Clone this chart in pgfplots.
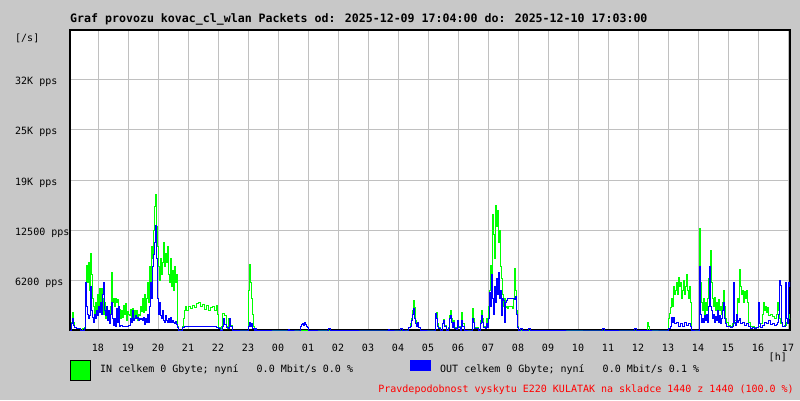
\documentclass[border=0pt]{standalone}
\usepackage{pgfplots}
\pgfplotsset{compat=1.18}
\usepackage{fontspec}
\setmainfont{DejaVu Sans Mono}
\definecolor{bg}{RGB}{200,200,200}
\definecolor{gridc}{RGB}{192,192,192}
\definecolor{ingreen}{RGB}{0,255,0}
\definecolor{outblue}{RGB}{0,0,255}
\begin{document}
\begin{tikzpicture}[x=1pt,y=1pt]
\fill[bg] (0,0) rectangle (800,400);
\begin{axis}[
  at={(70pt,70pt)}, anchor=south west,
  scale only axis, width=720pt, height=300pt,
  xmin=70, xmax=790, ymin=0, ymax=37500,
  axis background/.style={fill=white},
  axis line style={black, line width=1.2pt},
  grid=major, grid style={gridc, line width=1pt},
  tick style={draw=none},
  xtick={98,128,158,188,218,248,278,308,338,368,398,428,458,488,518,548,578,608,638,668,698,728,758,788},
  xticklabels={18,19,20,21,22,23,00,01,02,03,04,05,06,07,08,09,10,11,12,13,14,15,16,17},
  ytick={6250,12500,18750,25000,31250},
  yticklabels={6200 pps,12500 pps,19K pps,25K pps,32K pps},
  tick label style={font=\fontsize{10}{12}\selectfont, inner sep=0pt},
  xticklabel style={anchor=base, yshift=-21pt},
  yticklabel style={anchor=base west, xshift=-55pt, yshift=-5pt},
  /pgf/number format/assume math mode=true,
  scaled y ticks=false,
]
\addplot[ingreen, line width=0.8pt, mark=none, const plot] coordinates {
(70,0)(71,1000)(72,2250)(73,1000)(74,300)(76,250)(78,200)(80,0)(82,250)(84,300)
(85,3000)(86,8100)(87,6000)(88,8500)(89,5000)(90,9600)(91,7000)(92,4000)(93,3000)(94,2000)
(95,3500)(96,2000)(97,4400)(98,3000)(99,5250)(100,2500)(101,5250)(102,4000)(103,2000)(104,3500)
(105,1500)(106,3000)(107,1800)(108,2500)(109,1500)(110,3000)(111,7250)(112,3500)(113,4000)(114,3000)
(115,4000)(116,3500)(117,3800)(118,2200)(119,2600)(120,1500)(121,2500)(122,1600)(123,3100)(124,2000)
(125,3300)(126,1200)(127,2300)(128,2000)(129,1800)(130,2600)(131,1400)(132,2700)(133,1600)(134,2400)
(135,2000)(136,2500)(137,1200)(138,2000)(139,1800)(140,3000)(141,2300)(142,4000)(143,2200)(144,4400)
(145,2500)(146,4000)(147,6000)(148,3500)(149,7900)(150,6000)(151,10500)(152,9000)(153,12500)(154,15500)
(155,17000)(156,13000)(157,10400)(158,8000)(159,6250)(160,9000)(161,7000)(162,8500)(163,10900)(164,8000)
(165,9600)(166,8500)(167,10500)(168,7000)(169,6000)(170,9000)(171,5500)(172,7500)(173,5000)(174,8000)
(175,6000)(176,7000)(177,500)(178,0)(180,0)(182,400)(183,1500)(184,2500)(185,3000)(186,2500)
(188,3000)(190,2750)(192,3100)(194,2800)(196,3300)(198,3500)(200,3000)(202,3200)(204,2600)(206,3100)
(208,2400)(210,2800)(212,3000)(214,2500)(216,3100)(217,2000)(218,300)(220,0)(221,500)(222,2100)
(224,1800)(226,500)(227,200)(228,1500)(230,600)(232,0)(247,0)(248,5000)(249,8250)(250,6000)
(251,4000)(252,2000)(253,500)(254,0)(405,0)(408,300)(410,800)(411,1500)(412,2500)(413,3750)
(414,2800)(415,1200)(416,600)(418,300)(420,0)(434,0)(435,1500)(436,2200)(437,800)(438,300)
(440,0)(442,800)(443,1300)(444,600)(446,0)(448,300)(449,1800)(450,2500)(451,1500)(452,300)
(453,1200)(454,300)(456,200)(457,1200)(458,400)(460,0)(461,2250)(462,800)(464,0)(471,0)
(472,2700)(473,1500)(474,300)(478,0)(480,1200)(481,2500)(482,1500)(483,400)(485,300)(486,1500)
(487,600)(488,3000)(489,5000)(490,8100)(491,6000)(492,14400)(493,12000)(494,9000)(495,15600)(496,13000)
(497,15000)(498,11000)(499,12500)(500,8000)(501,6500)(502,4400)(503,3000)(504,4000)(505,2800)(506,3000)
(507,2750)(508,2900)(510,3000)(512,2750)(513,4000)(514,7750)(515,5000)(516,2500)(517,500)(518,0)
(646,0)(647,900)(648,400)(649,0)(667,0)(668,1500)(669,2100)(670,2800)(671,4000)(672,3000)
(673,5400)(674,4500)(675,5000)(676,6000)(677,4500)(678,6600)(679,5500)(680,6000)(681,4000)(682,5000)
(683,6250)(684,4500)(685,5500)(686,6900)(687,5000)(688,4000)(689,5500)(690,3400)(691,0)(698,0)
(699,12750)(700,6000)(701,3500)(702,2500)(703,4000)(704,2000)(705,3500)(706,2500)(707,4000)(708,6500)
(709,7000)(710,10000)(711,6000)(712,4000)(713,3000)(714,4100)(715,2500)(716,3500)(717,2100)(718,3800)
(719,2500)(720,3000)(721,2000)(722,3500)(723,5000)(724,3000)(725,1500)(726,1000)(728,600)(730,500)
(732,800)(734,1200)(736,2000)(737,4000)(738,3400)(739,7600)(740,5400)(741,4500)(742,5000)(743,3500)
(744,4800)(745,4000)(746,5000)(747,3400)(748,1000)(750,500)(752,400)(754,300)(756,300)(758,500)
(760,800)(762,2000)(763,3400)(764,2500)(765,3000)(766,2200)(767,2800)(768,1800)(770,2000)(772,1700)
(774,1500)(776,2000)(777,3400)(778,2500)(779,1500)(780,800)(782,500)(784,600)(786,1000)(788,2000)
(789,1500)(790,1200)
};
\addplot[outblue, line width=0.8pt, mark=none, const plot] coordinates {
(70,0)(71,800)(72,1500)(73,600)(74,300)(76,200)(80,0)(84,200)(85,6000)(86,3000)
(87,2000)(88,1500)(89,1800)(90,5500)(91,2500)(92,1600)(93,1000)(94,2000)(95,1400)(96,2500)
(97,1800)(98,3000)(99,2200)(100,3500)(101,2000)(102,4400)(103,6000)(104,2500)(105,1800)(106,3000)
(107,1200)(108,2500)(109,800)(110,2000)(111,3500)(112,1500)(113,600)(114,1400)(115,500)(116,2700)
(117,1000)(118,3000)(119,500)(120,600)(122,400)(124,500)(126,400)(128,600)(130,1500)(131,1000)
(132,2500)(133,1200)(134,1500)(135,1800)(136,1400)(137,1600)(138,1200)(139,1500)(140,1300)(141,1400)
(142,1200)(143,1600)(144,700)(145,1500)(146,1000)(147,2000)(148,1000)(149,3000)(150,6000)(151,4000)
(152,8000)(153,9500)(154,11000)(155,13100)(156,9000)(157,4000)(158,2000)(159,3400)(160,1800)(161,1500)
(162,2500)(163,1200)(164,1000)(165,1800)(166,1200)(167,900)(168,1500)(169,1000)(170,1600)(171,900)
(172,1200)(173,1000)(174,800)(175,1100)(176,700)(177,300)(178,0)(180,0)(182,300)(184,500)
(186,400)(190,400)(194,500)(198,400)(202,500)(206,400)(210,400)(214,500)(216,300)(218,200)
(220,0)(222,500)(223,1500)(224,700)(226,300)(228,200)(229,1500)(230,500)(232,0)(247,0)
(248,400)(249,1000)(250,500)(251,800)(252,200)(254,0)(255,200)(256,0)(287,0)(288,100)
(289,0)(299,0)(300,500)(301,700)(302,800)(303,600)(304,900)(305,700)(306,500)(307,300)
(308,0)(327,0)(328,150)(330,0)(387,0)(388,100)(389,0)(399,0)(400,200)(402,0)
(407,0)(408,300)(410,500)(411,1200)(412,2000)(413,2750)(414,1500)(415,800)(416,500)(417,1000)
(418,300)(420,0)(434,0)(435,2100)(436,1500)(437,500)(438,200)(440,0)(442,800)(443,1200)
(444,500)(446,0)(448,200)(449,1500)(450,1800)(451,1000)(452,300)(453,1000)(454,200)(456,100)
(457,1200)(458,300)(460,0)(461,1200)(462,500)(464,0)(471,0)(472,1500)(473,1000)(474,200)
(478,0)(480,800)(481,1800)(482,1000)(483,300)(485,200)(486,800)(487,300)(488,1500)(489,4700)
(490,3000)(491,7000)(492,4000)(493,2000)(494,5500)(495,3500)(496,6500)(497,4500)(498,7200)(499,4000)
(500,5000)(501,1800)(502,4000)(503,3750)(504,1000)(505,3500)(506,3750)(507,4000)(508,3900)(510,4000)
(512,3900)(514,3800)(515,4200)(516,2000)(517,300)(518,0)(520,200)(522,0)(528,200)(530,0)
(601,0)(602,150)(604,0)(633,0)(634,150)(636,0)(667,0)(668,200)(670,400)(671,1600)
(672,1000)(673,1600)(674,800)(676,900)(678,500)(680,800)(682,400)(684,900)(686,600)(688,800)
(690,500)(691,0)(698,0)(699,7900)(700,2000)(701,1000)(702,1500)(703,900)(704,1800)(705,1200)
(706,2000)(707,1000)(708,3000)(709,7900)(710,3000)(711,2500)(712,1500)(713,2000)(714,900)(715,1700)
(716,1200)(717,2500)(718,1000)(719,1800)(720,800)(721,1500)(722,2500)(723,3500)(724,1500)(725,800)
(726,500)(728,400)(730,300)(732,500)(733,5900)(734,1000)(735,600)(736,2000)(737,1000)(738,1200)
(739,1500)(740,800)(742,1000)(744,600)(746,800)(748,400)(750,200)(752,300)(754,200)(756,300)
(758,3400)(759,800)(760,300)(762,600)(764,1000)(766,800)(768,1200)(770,700)(772,800)(774,600)
(776,700)(777,1000)(778,2000)(779,6250)(780,5600)(781,1000)(782,400)(784,500)(785,6000)(786,1500)
(787,800)(788,6000)(789,5500)(790,6000)
};
\end{axis}
\node[anchor=base west, inner sep=0pt, font=\bfseries\fontsize{11.6}{14}\selectfont] at (70,377) {Graf provozu kovac\_cl\_wlan Packets od: 2025-12-09 17:04:00 do: 2025-12-10 17:03:00};
\node[anchor=base west, inner sep=0pt, font=\fontsize{10}{12}\selectfont] at (15,359) {[/s]};
\node[anchor=base east, inner sep=0pt, font=\fontsize{10}{12}\selectfont] at (787,40) {[h]};
\filldraw[fill=ingreen, draw=black, line width=1pt] (70.5,19.5) rectangle (90.5,39.5);
\fill[outblue] (410,29) rectangle (431,40);
\node[anchor=base west, inner sep=0pt, font=\fontsize{10}{12}\selectfont] at (100,28) {IN celkem 0 Gbyte; nyní\ \ \ 0.0 Mbit/s 0.0 \%};
\node[anchor=base west, inner sep=0pt, font=\fontsize{10}{12}\selectfont] at (440,28) {OUT celkem 0 Gbyte; nyní\ \ \ 0.0 Mbit/s 0.1 \%};
\node[anchor=base east, inner sep=0pt, text=red, font=\fontsize{10}{12}\selectfont] at (794,8) {Pravdepodobnost vyskytu E220 KULATAK na skladce 1440 z 1440 (100.0 \%)};
\end{tikzpicture}
\end{document}
